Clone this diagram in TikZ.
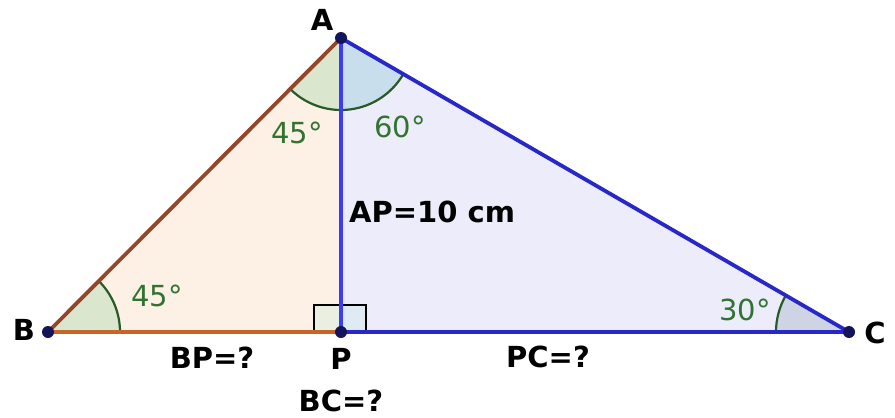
\documentclass[tikz,border=0pt]{standalone}
\usepackage{fontspec}
\setmainfont{DejaVu Sans}
\definecolor{peach}{RGB}{253,240,228}
\definecolor{lav}{RGB}{236,236,251}
\definecolor{brownAB}{RGB}{150,70,40}
\definecolor{orangeBP}{RGB}{200,100,40}
\definecolor{blueAP}{RGB}{60,60,255}
\definecolor{navy}{RGB}{40,40,200}
\definecolor{gtext}{RGB}{50,115,50}
\definecolor{garc}{RGB}{40,90,40}
\definecolor{sgreen}{RGB}{218,230,206}
\definecolor{sblue}{RGB}{200,222,236}
\definecolor{sgray}{RGB}{206,212,228}
\definecolor{ptc}{RGB}{20,20,90}
\begin{document}
\begin{tikzpicture}[x=1pt,y=-1pt,
  lbl/.style={font=\fontsize{29pt}{33pt}\selectfont\bfseries,inner sep=0pt},
  ang/.style={font=\fontsize{29pt}{33pt}\selectfont,text=gtext,inner sep=0pt},
  pt/.style={circle,fill=ptc,inner sep=0pt,minimum size=12pt},
  seg/.style={line width=3.8pt}]
\useasboundingbox (0,0) rectangle (895,418);
\fill[white] (0,0) rectangle (895,418);
\coordinate (A) at (341,38);
\coordinate (B) at (48,332);
\coordinate (P) at (341,332);
\coordinate (C) at (849,332);
% triangle fills
\fill[peach] (A) -- (B) -- (P) -- cycle;
\fill[lav] (A) -- (P) -- (C) -- cycle;
% angle sectors
\fill[sgreen] (A) -- ++(225:72pt) arc[start angle=225,end angle=270,radius=72pt] -- cycle;
\fill[sblue] (A) -- ++(270:72pt) arc[start angle=270,end angle=330,radius=72pt] -- cycle;
\fill[sgreen] (B) -- ++(0:72pt) arc[start angle=0,end angle=45,radius=72pt] -- cycle;
\fill[sgray] (C) -- ++(150:73pt) arc[start angle=150,end angle=180,radius=73pt] -- cycle;
\draw[garc,line width=2.2pt] (A) ++(225:72pt) arc[start angle=225,end angle=330,radius=72pt];
\draw[garc,line width=2.2pt] (B) ++(0:72pt) arc[start angle=0,end angle=45,radius=72pt];
\draw[garc,line width=2.2pt] (C) ++(150:73pt) arc[start angle=150,end angle=180,radius=73pt];
% right angle mark
\fill[sgreen!60] (314,305) rectangle (341,332);
\fill[sblue!60] (341,305) rectangle (366,332);
\draw[black,line width=1.8pt] (314,332) -- (314,305) -- (366,305) -- (366,332);
% sides
\draw[seg,brownAB] (A) -- (B);
\draw[seg,orangeBP] (B) -- (P);
\draw[seg,navy] (P) -- (C);
\draw[seg,navy] (A) -- (C);
\draw[seg,blueAP] (A) -- (P);
% points
\node[pt] (nA) at (A) {};
\node[pt] (nB) at (B) {};
\node[pt] (nP) at (P) {};
\node[pt] (nC) at (C) {};
% labels
\node[lbl] (lA) at (322,20) {A};
\node[lbl] (lB) at (24,330) {B};
\node[lbl] (lC) at (875,333) {C};
\node[lbl] (lP) at (341,359) {P};
\node[lbl] (lBP) at (212,358) {BP=?};
\node[lbl] (lPC) at (548,357) {PC=?};
\node[lbl] (lBC) at (341,401) {BC=?};
\node[lbl,anchor=west] (lAP) at (349,212) {AP=10 cm};
\node[ang] (a1) at (297,133) {45°};
\node[ang] (a2) at (400,127) {60°};
\node[ang] (a3) at (157,296) {45°};
\node[ang] (a4) at (745,310) {30°};
\end{tikzpicture}
\end{document}
